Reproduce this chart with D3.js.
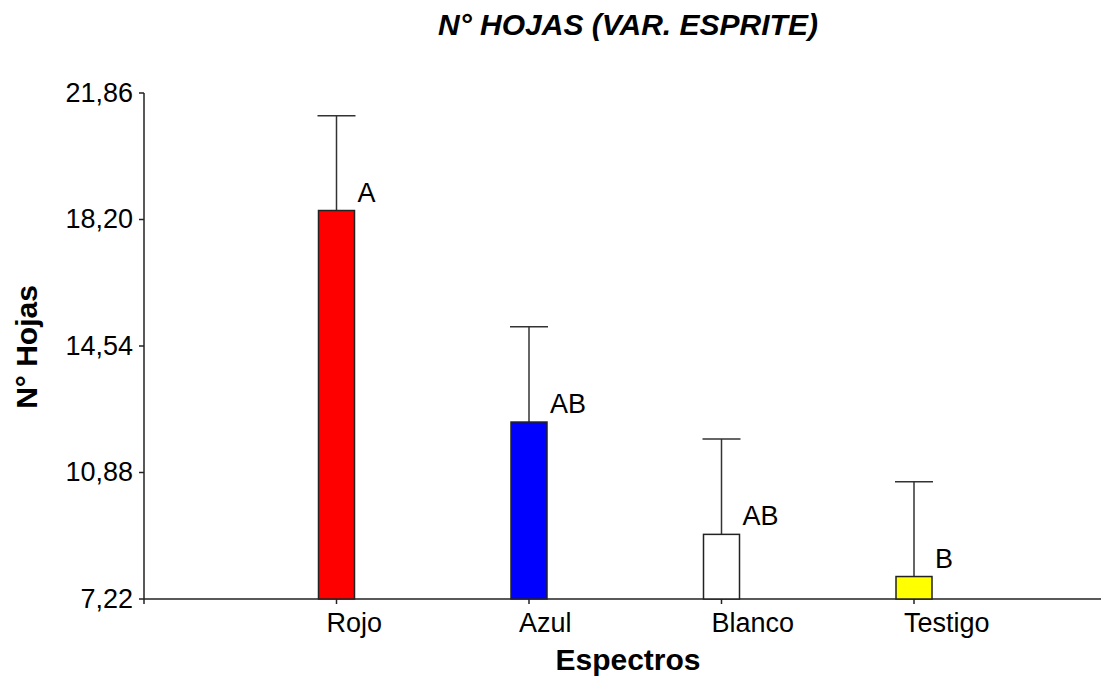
<!DOCTYPE html>
<html lang="es">
<head>
    <meta charset="UTF-8">
    <title>N° Hojas (Var. Esprite)</title>
    <script src="https://d3js.org/d3.v7.min.js"></script>
    <style>
        body {
            margin: 0;
            background: #fff;
            font-family: Arial, "Liberation Sans", sans-serif;
        }
        .tick-label { font-size: 27px; fill: #000; }
        .letter { font-size: 27px; fill: #000; }
        .title { font-size: 30px; font-weight: bold; font-style: italic; }
        .axis-title { font-size: 30px; font-weight: bold; }
    </style>
</head>
<body>
    <svg id="chart" width="1101" height="678"></svg>

    <script>
        // data
        const categories = ["Rojo", "Azul", "Blanco", "Testigo"];
        const means = [18.46, 12.34, 9.09, 7.87];
        const errTops = [21.20, 15.10, 11.85, 10.61];
        const letters = ["A", "AB", "AB", "B"];
        const barColors = ["#ff0000", "#0000ff", "#ffffff", "#ffff00"];
        const yTicks = [7.22, 10.88, 14.54, 18.20, 21.86];

        const svg = d3.select("#chart");

        const x = d3.scaleLinear()
            .domain([0, 5])
            .range([144, 1106.5]);

        const y = d3.scaleLinear()
            .domain([7.22, 21.86])
            .range([599, 93]);

        const barW = 36;
        const fmt = v => v.toFixed(2).replace(".", ",");

        // x axis line
        svg.append("line")
            .attr("x1", 144).attr("x2", 1101)
            .attr("y1", y(7.22)).attr("y2", y(7.22))
            .attr("stroke", "#222").attr("stroke-width", 1.5);

        // y axis line
        svg.append("line")
            .attr("x1", 144).attr("x2", 144)
            .attr("y1", y(21.86)).attr("y2", y(7.22) + 5)
            .attr("stroke", "#222").attr("stroke-width", 1.5);

        // y ticks
        yTicks.forEach(t => {
            svg.append("line")
                .attr("x1", 139).attr("x2", 144)
                .attr("y1", y(t)).attr("y2", y(t))
                .attr("stroke", "#222").attr("stroke-width", 1.5);
            svg.append("text")
                .attr("class", "tick-label")
                .attr("x", 133)
                .attr("y", y(t))
                .attr("dy", "0.33em")
                .attr("text-anchor", "end")
                .text(fmt(t));
        });

        categories.forEach((c, i) => {
            const cx = x(i + 1);

            // error bar
            svg.append("line")
                .attr("x1", cx).attr("x2", cx)
                .attr("y1", y(means[i])).attr("y2", y(errTops[i]))
                .attr("stroke", "#333").attr("stroke-width", 1.5);
            svg.append("line")
                .attr("x1", cx - 19).attr("x2", cx + 19)
                .attr("y1", y(errTops[i])).attr("y2", y(errTops[i]))
                .attr("stroke", "#333").attr("stroke-width", 1.5);

            // bar
            svg.append("rect")
                .attr("x", cx - barW / 2)
                .attr("y", y(means[i]))
                .attr("width", barW)
                .attr("height", y(7.22) - y(means[i]))
                .attr("fill", barColors[i])
                .attr("stroke", "#222")
                .attr("stroke-width", 1.5);

            // x tick
            svg.append("line")
                .attr("x1", cx).attr("x2", cx)
                .attr("y1", y(7.22)).attr("y2", y(7.22) + 5)
                .attr("stroke", "#222").attr("stroke-width", 1.5);

            svg.append("text")
                .attr("class", "tick-label")
                .attr("x", cx - 10)
                .attr("y", 632)
                .text(c);

            // significance letter
            svg.append("text")
                .attr("class", "letter")
                .attr("x", cx + barW / 2 + 3)
                .attr("y", y(means[i]) - 9)
                .text(letters[i]);
        });

        // titles
        svg.append("text")
            .attr("class", "title")
            .attr("x", 628).attr("y", 35)
            .attr("text-anchor", "middle")
            .text("N° HOJAS (VAR. ESPRITE)");

        svg.append("text")
            .attr("class", "axis-title")
            .attr("x", 628).attr("y", 670)
            .attr("text-anchor", "middle")
            .text("Espectros");

        svg.append("text")
            .attr("class", "axis-title")
            .attr("transform", "translate(37,347) rotate(-90)")
            .attr("text-anchor", "middle")
            .text("N° Hojas");
    </script>
</body>
</html>
